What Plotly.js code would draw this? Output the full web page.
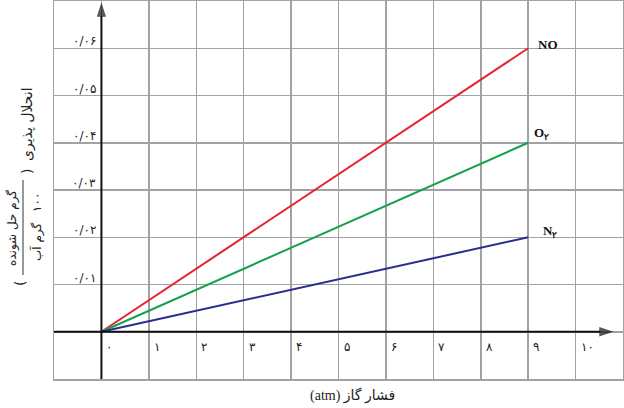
<!DOCTYPE html>
<html>
<head>
<meta charset="utf-8">
<script src="https://cdn.plot.ly/plotly-3.0.1.min.js"></script>
<style>html,body{margin:0;padding:0;background:#fff;}#chart{width:624px;height:408px;}</style>
</head>
<body>
<div id="chart"></div>
<script>
// ---- data ----
const pressure = [0, 9];
const noSolubility = [0, 0.06];
const o2Solubility = [0, 0.04];
const n2Solubility = [0, 0.02];
const seriesLabels = ['NO', 'O<sub>۲</sub>', 'N<sub>۲</sub>'];
const seriesColors = ['#e3242b', '#14a24a', '#2b2d8c'];
const xTickVals = [0, 1, 2, 3, 4, 5, 6, 7, 8, 9, 10];
const xTickText = ['۰', '۱', '۲', '۳', '۴', '۵', '۶', '۷', '۸', '۹', '۱۰'];
const yTickVals = [0.01, 0.02, 0.03, 0.04, 0.05, 0.06];
const yTickText = ['۰/۰۱', '۰/۰۲', '۰/۰۳', '۰/۰۴', '۰/۰۵', '۰/۰۶'];
const xTitle = '(atm) فشار گاز';
const yTitleMain = 'انحلال پذیری';
const yTitleNum = 'گرم حل شونده';
const yTitleDenNum = '۱۰۰';
const yTitleDenText = 'گرم آب';
const xRange = [-1, 11];
const yRange = [-0.01, 0.07];
const xAxisEnd = 10.8;
const yAxisEnd = 0.0697;

const ARFONT = 'DejaVu Sans, sans-serif';
const series = [noSolubility, o2Solubility, n2Solubility];

const traces = series.map((ys, i) => ({
  type: 'scatter', mode: 'lines', x: pressure, y: ys,
  line: {color: seriesColors[i], width: 2}, hoverinfo: 'skip', showlegend: false
}));
// axis lines with arrowheads
const arrowMarker = {symbol: ['line-ns', 'arrow'], size: [0, 15], angleref: 'previous', color: '#111',
  line: {width: 0, color: '#111'}, standoff: 0};
traces.push({type: 'scatter', mode: 'lines+markers', x: [xRange[0], xAxisEnd], y: [0, 0],
  line: {color: '#111', width: 2}, marker: arrowMarker, hoverinfo: 'skip', showlegend: false, cliponaxis: false});
traces.push({type: 'scatter', mode: 'lines+markers', x: [0, 0], y: [yRange[0], yAxisEnd],
  line: {color: '#111', width: 2}, marker: arrowMarker, hoverinfo: 'skip', showlegend: false, cliponaxis: false});

const annotations = [];
// x tick labels
xTickVals.forEach((v, i) => annotations.push({x: v, y: 0, xref: 'x', yref: 'y', text: xTickText[i], showarrow: false,
  xanchor: 'left', yanchor: 'top', xshift: 3, yshift: -6, font: {family: ARFONT, size: 12, color: '#222'}}));
// y tick labels
yTickVals.forEach((v, i) => annotations.push({x: 0, y: v, xref: 'x', yref: 'y', text: yTickText[i], showarrow: false,
  xanchor: 'right', yanchor: 'middle', xshift: -3, yshift: 7, font: {family: ARFONT, size: 12, color: '#222'}}));
// series labels
const lblShift = [[8, 4], [4, 9], [13, 6]];
series.forEach((ys, i) => annotations.push({x: pressure[pressure.length - 1], y: ys[ys.length - 1], xref: 'x', yref: 'y',
  text: '<b>' + seriesLabels[i] + '</b>', showarrow: false, xanchor: 'left', yanchor: 'middle',
  xshift: lblShift[i][0], yshift: lblShift[i][1], font: {family: 'Liberation Serif, serif', size: 13, color: '#111'}}));
// x title
const W = 569, H = 378;
const px = (p) => (p - 54) / W;
const py = (p) => (379 - p) / H;
annotations.push({x: px(352), y: py(396), xref: 'paper', yref: 'paper', text: xTitle, showarrow: false,
  xanchor: 'center', yanchor: 'middle', font: {family: 'Liberation Serif, DejaVu Sans, serif', size: 14, color: '#222'}});
// y title pieces
const rot = (x, y, text, size) => ({x: px(x), y: py(y), xref: 'paper', yref: 'paper', text: text, showarrow: false,
  textangle: -90, xanchor: 'center', yanchor: 'middle', font: {family: ARFONT, size: size, color: '#222'}});
annotations.push(rot(28, 124, yTitleMain, 14));
annotations.push(rot(27, 172, ')', 14));
annotations.push(rot(13, 228, yTitleNum, 12));
annotations.push(rot(37, 203, yTitleDenNum, 12));
annotations.push(rot(37, 242, yTitleDenText, 12));
annotations.push(rot(20, 284, '(', 14));

const shapes = [{type: 'line', xref: 'paper', yref: 'paper', x0: px(23), x1: px(23), y0: py(180), y1: py(275),
  line: {color: '#333', width: 1}}];

const axisCommon = {showgrid: true, gridcolor: '#a2a2a2', gridwidth: 1.5, zeroline: false, showticklabels: false,
  ticks: '', showline: true, mirror: true, linecolor: '#a2a2a2', linewidth: 1.5, fixedrange: true};

const layout = {
  width: 624, height: 408,
  margin: {l: 54, r: 1, t: 1, b: 29, autoexpand: false},
  paper_bgcolor: '#fff', plot_bgcolor: '#fff',
  xaxis: Object.assign({range: xRange, dtick: 1, tick0: 0}, axisCommon),
  yaxis: Object.assign({range: yRange, dtick: 0.01, tick0: 0}, axisCommon),
  annotations: annotations, shapes: shapes, showlegend: false
};

Plotly.newPlot('chart', traces, layout, {staticPlot: true, displayModeBar: false}).then(function (gd) {
  // drop Plotly's invisible placeholder title texts (empty strings)
  gd.querySelectorAll('text').forEach(function (t) { if (!t.textContent.trim()) t.remove(); });
});
</script>
</body>
</html>
